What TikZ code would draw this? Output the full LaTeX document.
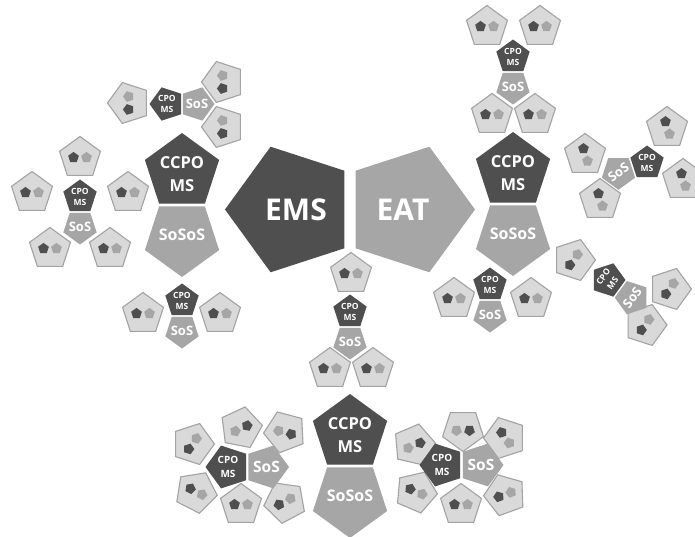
\documentclass[tikz,border=0pt]{standalone}
\usepackage{fontspec}
\setmainfont{Open Sans}
\definecolor{dk}{HTML}{4F4F4F}
\definecolor{md}{HTML}{A6A6A6}
\definecolor{lt}{HTML}{D9D9D9}
\definecolor{bd}{HTML}{A3A3A3}
\tikzset{
 dkfill/.style={fill=dk},
 mdfill/.style={fill=md},
 leafbox/.style={fill=lt,draw=bd,line width=1.1pt,line join=miter},
 lbl/.style={text=white,inner sep=0pt,align=center},
 cpof/.style={font=\fontsize{8.5}{11.5}\selectfont\bfseries},
 cpob/.style={font=\fontsize{10}{13.6}\selectfont\bfseries},
 sosf/.style={font=\fontsize{13}{15}\selectfont\bfseries},
 sosb/.style={font=\fontsize{15.5}{18}\selectfont\bfseries},
 ccpof/.style={font=\fontsize{16.5}{23}\selectfont\bfseries},
 sososf/.style={font=\fontsize{16}{18}\selectfont\bfseries},
 bigf/.style={font=\fontsize{30}{34}\selectfont\bfseries},
}
\newcommand\pgU[4]{\path[#1,shift={(#2,#3)}] (-90:#4) -- (-18:#4) -- (54:#4) -- (126:#4) -- (198:#4) -- cycle;}
\newcommand\pgD[4]{\path[#1,shift={(#2,#3)}] (90:#4) -- (162:#4) -- (234:#4) -- (306:#4) -- (18:#4) -- cycle;}
\newcommand\mkleaf[3]{\begin{scope}[shift={(#1,#2)},rotate=#3]
 \pgU{leafbox}{0}{0}{21.5}
 \pgU{dkfill}{-6.5}{-0.5}{5.6}
 \pgU{mdfill}{6.5}{-0.5}{5.6}
\end{scope}}
\newcommand\mkunit[8]{\begin{scope}[shift={(#2,#3)},rotate=#4]
 \pgU{dkfill}{0}{0}{#5}
 \pgD{mdfill}{0}{#6}{#5}
 \node[lbl,#7] (#1cpo) at (0,0) {CPO\\MS};
 \node[lbl,#8] (#1sos) at (0,#6) {SoS};
\end{scope}}
\newcommand\mkmain[3]{%
 \pgU{dkfill}{#2}{#3}{39}
 \pgD{mdfill}{#2}{#3+66}{39}
 \node[lbl,ccpof] (#1ccpo) at (#2,#3+2.5) {CCPO\\MS};
 \node[lbl,sososf] (#1sosos) at (#2,#3+63) {SoSoS};}
\begin{document}
\begin{tikzpicture}[x=1pt,y=-1pt]
\useasboundingbox (0,0) rectangle (695,537);
\fill[white] (0,0) rectangle (695,537);
% leaves A
\mkleaf{487}{27}{0}\mkleaf{540}{27}{0}\mkleaf{492}{115}{0}\mkleaf{535}{115}{0}
% leaves B
\mkleaf{129}{103}{90}\mkleaf{223}{82}{90}\mkleaf{223}{127}{90}
% leaves C
\mkleaf{80}{158}{0}\mkleaf{32}{193}{0}\mkleaf{128}{193}{0}\mkleaf{50}{249}{0}\mkleaf{110}{249}{0}
% leaves D
\mkleaf{143}{314}{0}\mkleaf{220}{314}{0}
% leaves E
\mkleaf{351}{274}{0}\mkleaf{330}{369}{0}\mkleaf{373}{369}{0}
% leaves F
\mkleaf{454}{299}{0}\mkleaf{531}{299}{0}
% leaves G
\mkleaf{667}{128}{-72}\mkleaf{683}{180}{-72}\mkleaf{585}{155}{-72}\mkleaf{600}{200}{-72}
% leaves H
\mkleaf{574}{260}{54}\mkleaf{670}{289}{54}\mkleaf{645.5}{325}{54}
% leaves I
\mkleaf{193}{444}{54}\mkleaf{241}{428}{-155}\mkleaf{285}{432}{165}
\mkleaf{196}{492}{-27}\mkleaf{241}{505}{0}\mkleaf{285}{502}{28}
% leaves J
\mkleaf{414}{445}{-157}\mkleaf{463}{430}{180}\mkleaf{505}{438}{-54}
\mkleaf{416}{492}{-23}\mkleaf{461}{505}{0}\mkleaf{505}{495}{20}
% units
\mkunit{a}{513}{57}{0}{17.5}{30}{cpof}{sosf}
\mkunit{b}{167}{104}{90}{17.5}{30}{cpof}{sosf}
\mkunit{c}{80}{197}{0}{17.5}{30}{cpof}{sosf}
\mkunit{d}{182}{301}{0}{17.5}{30}{cpof}{sosf}
\mkunit{e}{350}{312}{0}{17.5}{30}{cpof}{sosf}
\mkunit{f}{490}{285}{0}{17.5}{30}{cpof}{sosf}
\mkunit{g}{647}{163}{-72}{17.5}{30}{cpof}{sosf,rotate=36}
\mkunit{h}{608}{280}{54}{17.5}{30}{cpof,rotate=54}{sosf,rotate=54}
\mkunit{i}{228}{467}{90}{22.5}{38.5}{cpob}{sosb}
\mkunit{j}{442}{465}{90}{22.5}{39}{cpob}{sosb}
% main units
\mkmain{l}{182}{172}
\mkmain{r}{513}{171}
\mkmain{m}{350}{433}
% EMS / EAT
\path[dkfill,shift={(291,209.5)}] (180:66) -- (252:66) -- (324:66) -- (36:66) -- (108:66) -- cycle;
\path[mdfill,shift={(409,209.5)}] (0:66) -- (72:66) -- (144:66) -- (216:66) -- (288:66) -- cycle;
\node[lbl,bigf] (ems) at (296,210) {EMS};
\node[lbl,bigf] (eat) at (403,210) {EAT};
\end{tikzpicture}
\end{document}
